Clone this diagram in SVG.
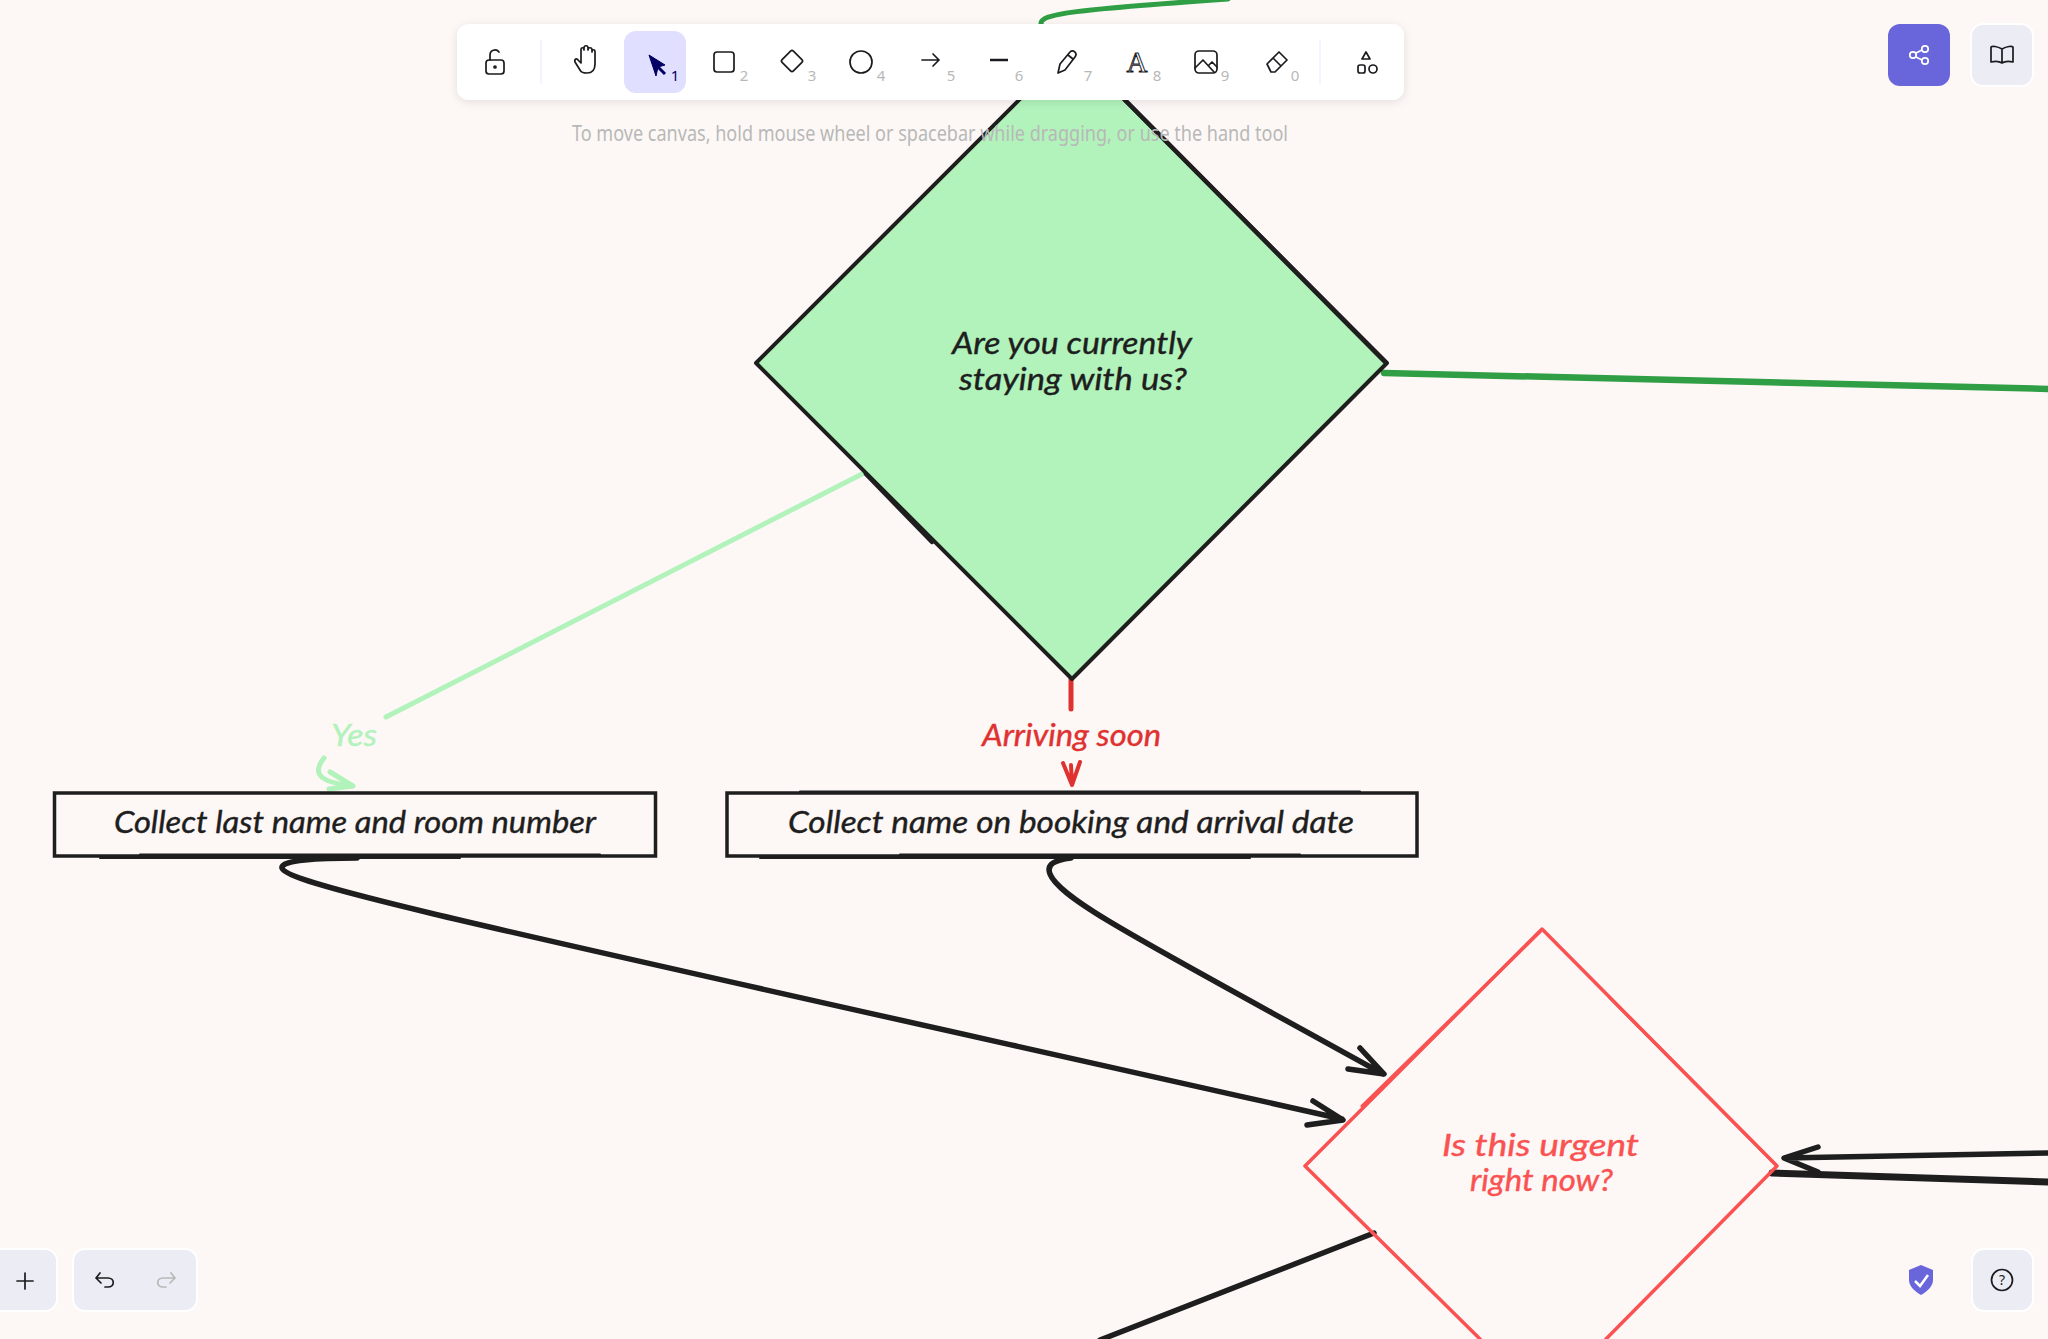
<svg xmlns="http://www.w3.org/2000/svg" width="2048" height="1339" viewBox="0 0 2048 1339">
<defs>
<filter id="sh" x="-5%" y="-30%" width="110%" height="170%"><feDropShadow dx="0" dy="2" stdDeviation="5" flood-color="#000" flood-opacity="0.1"/></filter>
</defs>
<style>
.hand{font-family:"Lato","Noto Sans",sans-serif;font-style:italic;font-size:30px;fill:#1e1e1e;stroke:#1e1e1e;stroke-width:.4;text-anchor:start}
.ln{fill:none;stroke-linecap:round;stroke-linejoin:round}
.blk{stroke:#1e1e1e;stroke-width:5.5}
.ic{fill:none;stroke:#1b1b1f;stroke-width:1.7;stroke-linecap:round;stroke-linejoin:round}
.num{font-family:"Noto Sans",sans-serif;font-size:15px;fill:#b8b8b8;text-anchor:middle}
.btn{fill:#ececf4;stroke:#fff;stroke-width:2}
</style>
<rect width="2048" height="1339" fill="#fdf8f6"/>
<g id="connectors">
<path class="ln" d="M1041 24C1040 14 1070 10 1228 -1" stroke="#2f9e44" stroke-width="5"/>
<path class="ln" d="M1384 373L2050 389" stroke="#2f9e44" stroke-width="6.500"/>
<path class="ln" d="M862 474L386 717" stroke="#b2f2bb" stroke-width="5"/>
<path class="ln" d="M324 758C313 772 316 782 353 786M330 772L353 786L329 789" stroke="#b2f2bb" stroke-width="5"/>
<path class="ln" d="M1071 679V709" stroke="#e03131" stroke-width="5"/>
<path class="ln" d="M1071 765L1072 785M1063 763L1072 785L1080 762" stroke="#e03131" stroke-width="4"/>
<path class="ln blk" d="M357 858C320 858 280 860 282 868C286 885 500 930 1342 1119M1313 1101L1343 1120L1307 1125"/>
<path class="ln blk" d="M1071 858C1055 860 1046 864 1050 874C1060 900 1150 945 1383 1074M1360 1048L1384 1074L1348 1069"/>
<path class="ln blk" d="M2050 1153L1785 1158M1818 1147L1784 1158L1818 1172"/>
<path class="ln" d="M1772 1173L2050 1182" stroke="#1e1e1e" stroke-width="7"/>
<path class="ln blk" d="M1374 1233L1100 1340"/>
</g>
<g id="node-staying">
<polygon points="1072,47 1387,363 1072,679 756,363" fill="#b2f2bb"/>
<path class="ln" d="M1072 47L1387 363L1072 679L756 363Z" stroke="#1e1e1e" stroke-width="4"/>
<path class="ln" d="M866 474L932 542M1125 100L1385 362" stroke="#1e1e1e" stroke-width="4.500"/>
<text class="hand" x="952" y="354" textLength="240" lengthAdjust="spacingAndGlyphs">Are you currently</text>
<text class="hand" x="959" y="390" textLength="228" lengthAdjust="spacingAndGlyphs">staying with us?</text>
</g>
<g id="node-urgent">
<path class="ln" d="M1480 1339L1305 1166L1542 929L1777 1166L1606 1339" stroke="#fa5252" stroke-width="3.500"/>
<path class="ln" d="M1362 1106L1540 932M1610 998L1775 1164" stroke="#fa5252" stroke-width="3"/>
<text class="hand" style="fill:#fa5252;stroke:#fa5252" x="1442" y="1156" textLength="197" lengthAdjust="spacingAndGlyphs">Is this urgent</text>
<text class="hand" style="fill:#fa5252;stroke:#fa5252" x="1470" y="1191" textLength="143" lengthAdjust="spacingAndGlyphs">right now?</text>
</g>
<g id="node-room">
<rect x="54.500" y="793" width="601" height="63" fill="none" stroke="#1e1e1e" stroke-width="3.500"/>
<path class="ln" d="M140 854.500H600M100 858H460" stroke="#1e1e1e" stroke-width="2"/>
<text class="hand" x="114" y="833" textLength="482" lengthAdjust="spacingAndGlyphs">Collect last name and room number</text>
</g>
<g id="node-booking">
<rect x="727" y="793" width="690" height="63" fill="none" stroke="#1e1e1e" stroke-width="3.500"/>
<path class="ln" d="M900 854.500H1300M760 858H1250M800 791.500H1360" stroke="#1e1e1e" stroke-width="2"/>
<text class="hand" x="788" y="833" textLength="566" lengthAdjust="spacingAndGlyphs">Collect name on booking and arrival date</text>
</g>
<g id="edge-labels">
<text class="hand" style="fill:#b2f2bb;stroke:#b2f2bb" x="331" y="746" textLength="46" lengthAdjust="spacingAndGlyphs">Yes</text>
<text class="hand" style="fill:#e03131;stroke:#e03131" x="982" y="746" textLength="179" lengthAdjust="spacingAndGlyphs">Arriving soon</text>
</g>
<g id="ui">
<text x="572" y="141" textLength="716" lengthAdjust="spacingAndGlyphs" font-family="'Noto Sans',sans-serif" font-size="21" fill="#b8b8b8">To move canvas, hold mouse wheel or spacebar while dragging, or use the hand tool</text>
<rect x="457" y="24" width="947" height="76" rx="12" fill="#fff" filter="url(#sh)"/>
<rect x="624" y="31" width="62" height="62" rx="12" fill="#e0dfff"/>
<path d="M541 40V84M1320 40V84" stroke="#f1f0ff" stroke-width="1.500"/>
<g class="ic"><rect x="486" y="60" width="18" height="14" rx="3"/><path d="M490 60V55a5 5 0 0 1 9-3"/><circle cx="495" cy="67" r="1"/></g>
<path class="ic" d="M580 70l-5-8c-1-3 2-4 3-2l3 3V50c0-3 3-3 3 0V48c0-3 4-3 4 0V50c0-3 4-3 4 0v2c0-3 3-3 3 0v12c0 6-3 9-8 9s-6-1-7-3z"/>
<path d="M649 55L665 65L658 67L656 76Z" fill="#030064" stroke="#030064" stroke-width="1"/><path d="M657 66L665 74" stroke="#030064" stroke-width="3"/>
<rect class="ic" x="714" y="52" width="20" height="20" rx="3"/>
<rect class="ic" x="784" y="53" width="16" height="16" rx="2" transform="rotate(45 792 61)"/>
<circle class="ic" cx="861" cy="62" r="11"/>
<path class="ic" d="M922 60H939M933 54L939 60L933 66"/>
<path d="M990 60H1008" stroke="#1b1b1f" stroke-width="2.500"/>
<path class="ic" d="M1058 73L1060 64L1070 52C1073 49 1078 53 1075 57L1065 70ZM1068 55L1073 59"/>
<text x="1137" y="72" font-family="'Liberation Serif',serif" font-size="29" text-anchor="middle" fill="none" stroke="#1b1b1f" stroke-width="1">A</text>
<g class="ic"><rect x="1195" y="51" width="22" height="22" rx="4"/><path d="M1195 68L1203 60L1214 72M1209 65L1212 62L1217 67"/></g>
<path class="ic" d="M1267 64L1279 52L1287 60L1275 72H1271ZM1273 58L1281 66"/>
<g class="ic"><path d="M1366 52L1370 59H1362Z"/><rect x="1358" y="65" width="7" height="8" rx="2"/><circle cx="1373" cy="69" r="4"/></g>
<text class="num" x="675" y="81" style="fill:#030064">1</text>
<text class="num" x="744" y="81">2</text><text class="num" x="812" y="81">3</text><text class="num" x="881" y="81">4</text><text class="num" x="951" y="81">5</text><text class="num" x="1019" y="81">6</text><text class="num" x="1088" y="81">7</text><text class="num" x="1157" y="81">8</text><text class="num" x="1225" y="81">9</text><text class="num" x="1295" y="81">0</text>
<rect x="1888" y="24" width="62" height="62" rx="12" fill="#6965db"/>
<g fill="none" stroke="#fff" stroke-width="1.700"><circle cx="1913" cy="55" r="3.200"/><circle cx="1925" cy="49" r="3.200"/><circle cx="1925" cy="61" r="3.200"/><path d="M1916 53L1922 50M1916 57L1922 60"/></g>
<rect class="btn" x="1971" y="24" width="62" height="62" rx="12"/>
<path class="ic" d="M2002 49C1997 46 1992 46 1991 47V62C1995 61 1999 61 2002 63C2005 61 2009 61 2013 62V47C2012 46 2007 46 2002 49V63"/>
<rect class="btn" x="-20" y="1249" width="77" height="62" rx="12"/>
<path class="ic" d="M17 1281H33M25 1273V1289"/>
<rect class="btn" x="73" y="1249" width="124" height="62" rx="12"/>
<path class="ic" d="M100 1273L96 1278L101 1283M96 1278H108C115 1278 115 1287 108 1287H105"/>
<path class="ic" style="stroke:#b8b8b8" d="M171 1273L175 1278L170 1283M175 1278H163C156 1278 156 1287 163 1287H166"/>
<path d="M1921 1265L1933 1270V1280C1933 1286 1928 1291 1921 1295C1914 1291 1909 1286 1909 1280V1270Z" fill="#6965db"/>
<path d="M1915 1281L1920 1286L1928 1275" fill="none" stroke="#fff" stroke-width="2.500"/>
<rect class="btn" x="1972" y="1249" width="61" height="62" rx="12"/>
<circle class="ic" cx="2002" cy="1280" r="10.500"/>
<text x="2002" y="1285" font-family="'Noto Sans',sans-serif" font-size="14" text-anchor="middle" fill="#1b1b1f">?</text>
</g>
</svg>
